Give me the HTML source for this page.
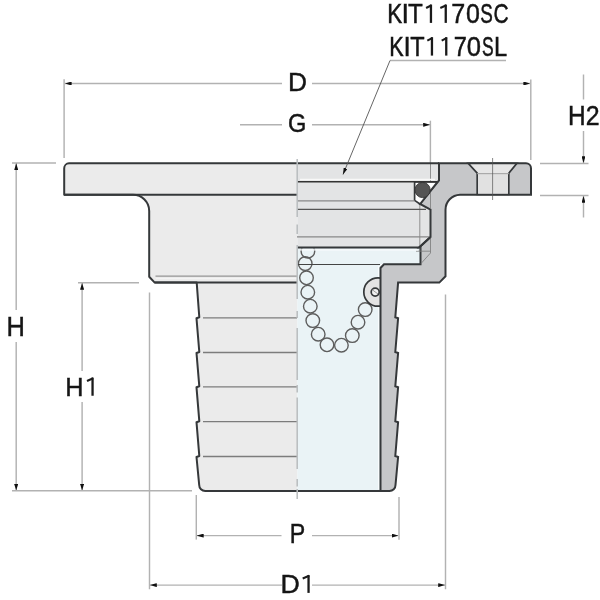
<!DOCTYPE html>
<html><head><meta charset="utf-8">
<style>
html,body{margin:0;padding:0;background:#fff;width:600px;height:600px;overflow:hidden}
svg{display:block;will-change:transform}
text{font-family:"Liberation Sans",sans-serif;fill:#151515;stroke:#151515;stroke-width:0.45;vector-effect:non-scaling-stroke}
</style></head><body>
<svg width="600" height="600" viewBox="0 0 600 600">
<defs>
<marker id="ar" viewBox="0 0 6.8 3.9" refX="6.8" refY="1.95" markerWidth="6.8" markerHeight="3.9" markerUnits="userSpaceOnUse" orient="auto-start-reverse">
<path d="M0,0.35 Q0,0 0.45,0.05 L6.8,1.95 L0.45,3.85 Q0,3.9 0,3.55 Z" fill="#111"/>
</marker>
<clipPath id="boreClip"><rect x="297.3" y="248.6" width="83" height="242"/></clipPath>
</defs>

<!-- ===== Dimension lines ===== -->
<g stroke="#b2b2b2" stroke-width="1.45" fill="none">
  <!-- D -->
  <line x1="64.1" y1="79.2" x2="64.1" y2="158"/>
  <line x1="530.8" y1="79.5" x2="530.8" y2="160"/>
  <line x1="282" y1="83.5" x2="64.8" y2="83.5" marker-end="url(#ar)"/>
  <line x1="312" y1="83.5" x2="530.2" y2="83.5" marker-end="url(#ar)"/>
  <!-- G -->
  <line x1="240" y1="124.8" x2="282" y2="124.8"/>
  <line x1="312" y1="124.8" x2="430" y2="124.8" marker-end="url(#ar)"/>
  <line x1="430.4" y1="120.7" x2="430.4" y2="163"/>
  <!-- H2 -->
  <line x1="583.5" y1="74.5" x2="583.5" y2="99.5"/>
  <line x1="583.5" y1="131" x2="583.5" y2="163" marker-end="url(#ar)"/>
  <line x1="583.5" y1="217.5" x2="583.5" y2="196" marker-end="url(#ar)"/>
  <line x1="540" y1="163.5" x2="588.5" y2="163.5"/>
  <line x1="540" y1="195.5" x2="588.5" y2="195.5"/>
  <!-- H -->
  <line x1="12" y1="163" x2="56" y2="163"/>
  <line x1="16.2" y1="310" x2="16.2" y2="163.3" marker-end="url(#ar)"/>
  <line x1="16.2" y1="342" x2="16.2" y2="490.5" marker-end="url(#ar)"/>
  <!-- H1 -->
  <line x1="78" y1="282.8" x2="139" y2="282.8"/>
  <line x1="82.1" y1="371" x2="82.1" y2="283" marker-end="url(#ar)"/>
  <line x1="82.1" y1="402" x2="82.1" y2="490.5" marker-end="url(#ar)"/>
  <line x1="12" y1="490.8" x2="192" y2="490.8"/>
  <!-- D1 -->
  <line x1="149.5" y1="292.5" x2="149.5" y2="589.3"/>
  <line x1="445.5" y1="294.5" x2="445.5" y2="589.3"/>
  <line x1="282" y1="585.1" x2="150" y2="585.1" marker-end="url(#ar)"/>
  <line x1="312" y1="585.1" x2="445" y2="585.1" marker-end="url(#ar)"/>
  <!-- P -->
  <line x1="196.3" y1="495" x2="196.3" y2="539.6"/>
  <line x1="399" y1="497" x2="399" y2="539.7"/>
  <line x1="281.5" y1="535.6" x2="196.9" y2="535.6" marker-end="url(#ar)"/>
  <line x1="312" y1="535.6" x2="398.4" y2="535.6" marker-end="url(#ar)"/>
  <!-- leader underline -->
  <line x1="390" y1="60.5" x2="506" y2="60.5"/>
</g>

<!-- ===== Left half (view) ===== -->
<path fill="#ebebeb" stroke="#35383a" stroke-width="2" stroke-linejoin="round" d="M297.3,163.3 H69 A5,5 0 0 0 64.2,168.3 V194.8 H133 A16.2,16.2 0 0 1 149.2,211 V276.7 L154.7,282.6 H196.7 L199.3,317.3 L196.5,318.3 L199.3,352.0 L196.5,353.0 L199.3,386.3 L196.5,387.3 L199.3,421.2 L196.5,422.2 L199.3,456.0 L196.5,457.0 L199.2,485 A6,6 0 0 0 205.2,491 H297.3"/>
<g stroke="#7c7c7c" stroke-width="1.3">
  <line x1="203" y1="317.8" x2="297" y2="317.8"/>
  <line x1="203" y1="352.5" x2="297" y2="352.5"/>
  <line x1="203" y1="386.8" x2="297" y2="386.8"/>
  <line x1="203" y1="421.7" x2="297" y2="421.7"/>
  <line x1="203" y1="456.5" x2="297" y2="456.5"/>
</g>
<line x1="155.5" y1="276.2" x2="297" y2="276.2" stroke="#959595" stroke-width="1.2"/>
<line x1="156" y1="278.6" x2="297" y2="278.6" stroke="#f6f6f6" stroke-width="1"/>
<line x1="64" y1="194.8" x2="297" y2="194.8" stroke="#35383a" stroke-width="2"/>
<line x1="154.7" y1="282.6" x2="297" y2="282.6" stroke="#35383a" stroke-width="2"/>

<!-- ===== Right half (section) ===== -->
<!-- thread region -->
<rect x="297.3" y="163.3" width="142" height="84.5" fill="#e3e4e5"/>
<!-- bore -->
<path fill="#eaf3f6" d="M297.3,247.5 H420.5 V264 H380.5 V491 H297.3 Z"/>
<line x1="378.6" y1="266" x2="378.6" y2="489.5" stroke="#fbfdfe" stroke-width="1"/>
<!-- chain -->
<g fill="none" stroke="#5e5e5e" stroke-width="1.4" clip-path="url(#boreClip)">
  <circle cx="307.9" cy="251.3" r="6.8"/>
  <circle cx="305.2" cy="263.6" r="6.8"/>
  <circle cx="306.5" cy="277.8" r="6.8"/>
  <circle cx="307.8" cy="292.2" r="6.8"/>
  <circle cx="310.3" cy="306.2" r="6.8"/>
  <circle cx="312.8" cy="320.6" r="6.8"/>
  <circle cx="318.2" cy="334.2" r="6.8"/>
  <circle cx="327.0" cy="344.8" r="6.8"/>
  <circle cx="341.4" cy="345.2" r="6.8"/>
  <circle cx="352.3" cy="335.6" r="6.8"/>
  <circle cx="358.0" cy="322.2" r="6.8"/>
  <circle cx="365.2" cy="309.6" r="6.8"/>
</g>
<line x1="297" y1="264.5" x2="380" y2="264.5" stroke="#444" stroke-width="1.1"/>
<circle cx="378" cy="292" r="14.2" fill="#e3e3e3" stroke="#35383a" stroke-width="1.7"/>
<circle cx="375.2" cy="292.1" r="4" fill="#f2f2f2" stroke="#35383a" stroke-width="1.7"/>
<line x1="372.6" y1="290" x2="378" y2="294" stroke="#999" stroke-width="1"/>
<!-- section body -->
<path fill="#c6c7c9" stroke="#35383a" stroke-width="2" stroke-linejoin="miter" d="M439,163.3 H526 A5,5 0 0 1 531,168.3 V194.7 H460 A15,15 0 0 0 445.5,209.7 V276.3 L439.3,282.6 H398.1 L395.3,317.3 L398.1,318.3 L395.3,352.0 L398.1,353.0 L395.3,386.3 L398.1,387.3 L395.3,421.2 L398.1,422.2 L395.3,456.0 L398.1,457.0 L395.5,485 A6,6 0 0 1 389.5,491 H380.5 V268 L384,264.2 H420.5 V247.5 H419.1 L430.5,237 V209.5 L420,204 L439,180.5 Z"/>
<!-- faint edges inside section near thread end -->
<g stroke="#7a7a7a" stroke-width="0.8" fill="none">
  <line x1="416" y1="251.2" x2="430.5" y2="251.2"/>
  <line x1="430.5" y1="237" x2="430.5" y2="253"/>
  <line x1="421" y1="263.5" x2="430.5" y2="253"/>
  <line x1="419.8" y1="205" x2="419.8" y2="251"/>
  <line x1="430.5" y1="163" x2="430.5" y2="209"/>
</g>
<!-- groove -->
<path fill="#fff" stroke="#35383a" stroke-width="1.7" stroke-linejoin="miter" d="M414.6,181.8 H437.5 L420,204 L414.6,200.4 Z"/>
<circle cx="422.6" cy="190" r="7.6" fill="#545454" stroke="#333" stroke-width="0.9"/>
<!-- countersunk hole -->
<path fill="#e6e6e6" stroke="#35383a" stroke-width="1.7" stroke-linejoin="miter" d="M468.2,163.3 H516.9 L508.8,173.2 V194.3 H477.2 V173.2 Z"/>
<rect x="478" y="174" width="30" height="19.6" fill="#e1e1e1"/>
<line x1="477.2" y1="173.6" x2="508.8" y2="173.6" stroke="#aaa" stroke-width="1.2"/>
<line x1="492.6" y1="158" x2="492.6" y2="200" stroke="#555" stroke-width="0.7"/>
<!-- thread lines -->
<g stroke-width="1.3">
  <line x1="300" y1="179.5" x2="435" y2="179.5" stroke="#f8f8f8"/>
  <line x1="297" y1="181.8" x2="437" y2="181.8" stroke="#333" stroke-width="1.6"/>
  <line x1="297" y1="200.8" x2="414.6" y2="200.8" stroke="#888"/>
  <line x1="297" y1="209.4" x2="426" y2="209.4" stroke="#555"/>
  <line x1="297" y1="236.8" x2="430" y2="236.8" stroke="#888"/>
  <line x1="300" y1="249.8" x2="418" y2="249.8" stroke="#fafcfd" stroke-width="1.2"/>
</g>
<path d="M297,247.5 H419.1 L430.5,237" fill="none" stroke="#35383a" stroke-width="2"/>
<line x1="297.3" y1="163.3" x2="439" y2="163.3" stroke="#35383a" stroke-width="2"/>
<line x1="297.3" y1="491" x2="381" y2="491" stroke="#35383a" stroke-width="2"/>

<!-- center line -->
<path d="M297.2,159 V217 M297.2,224.5 V234 M297.2,245 V299 M297.2,311 V318 M297.2,328 V380 M297.2,385 V392.5 M297.2,397.5 V469 M297.2,479 V486.5 M297.2,489 V499" stroke="#b9bdbf" stroke-width="1.5" fill="none"/>

<!-- leader -->
<line x1="390" y1="60.5" x2="343" y2="174.5" stroke="#555" stroke-width="0.9" marker-end="url(#ar)"/>
<!-- ===== Text ===== -->
<g class="txt">
<text transform="translate(387.18,22.90) scale(0.838,1)" font-size="26.87">K</text>
<text transform="translate(401.50,22.90) scale(1.008,1)" font-size="26.87">I</text>
<text transform="translate(408.04,22.90) scale(0.902,1)" font-size="26.87">T</text>
<path d="M430.95,4.60 V22.90" stroke="#1a1a1a" stroke-width="2.3" fill="none"/>
<path d="M431.55,5.30 L426.10,8.00" stroke="#1a1a1a" stroke-width="2.1" fill="none" stroke-linecap="butt"/>
<path d="M445.75,4.60 V22.90" stroke="#1a1a1a" stroke-width="2.3" fill="none"/>
<path d="M446.35,5.30 L440.30,8.00" stroke="#1a1a1a" stroke-width="2.1" fill="none" stroke-linecap="butt"/>
<text transform="translate(451.24,22.90) scale(0.935,1)" font-size="26.87">7</text>
<text transform="translate(466.04,22.90) scale(0.929,1)" font-size="26.87">0</text>
<text transform="translate(480.13,22.90) scale(0.701,1)" font-size="26.87">S</text>
<text transform="translate(493.55,22.90) scale(0.780,1)" font-size="26.87">C</text>
<text transform="translate(389.15,55.60) scale(0.801,1)" font-size="27.02">K</text>
<text transform="translate(403.40,55.60) scale(0.962,1)" font-size="27.02">I</text>
<text transform="translate(410.36,55.60) scale(0.871,1)" font-size="27.02">T</text>
<path d="M431.95,37.20 V55.60" stroke="#1a1a1a" stroke-width="2.3" fill="none"/>
<path d="M432.55,37.90 L427.30,40.60" stroke="#1a1a1a" stroke-width="2.1" fill="none" stroke-linecap="butt"/>
<path d="M446.25,37.20 V55.60" stroke="#1a1a1a" stroke-width="2.3" fill="none"/>
<path d="M446.85,37.90 L441.70,40.60" stroke="#1a1a1a" stroke-width="2.1" fill="none" stroke-linecap="butt"/>
<text transform="translate(453.72,55.60) scale(0.873,1)" font-size="27.02">7</text>
<text transform="translate(466.82,55.60) scale(0.947,1)" font-size="27.02">0</text>
<text transform="translate(481.89,55.60) scale(0.646,1)" font-size="27.02">S</text>
<text transform="translate(494.08,55.60) scale(0.879,1)" font-size="27.02">L</text>
<text transform="translate(287.97,90.90) scale(1.007,1)" font-size="26.15">D</text>
<text transform="translate(287.92,131.70) scale(0.927,1)" font-size="25.42">G</text>
<text transform="translate(568.03,124.50) scale(0.898,1)" font-size="27.16">H</text>
<text transform="translate(585.65,124.50) scale(0.917,1)" font-size="27.16">2</text>
<text transform="translate(6.44,335.90) scale(0.948,1)" font-size="26.87">H</text>
<text transform="translate(65.36,395.75) scale(0.949,1)" font-size="26.65">H</text>
<path d="M92.55,377.60 V395.75" stroke="#1a1a1a" stroke-width="2.3" fill="none"/>
<path d="M93.15,378.30 L87.00,381.00" stroke="#1a1a1a" stroke-width="2.1" fill="none" stroke-linecap="butt"/>
<text transform="translate(289.83,543.30) scale(0.868,1)" font-size="26.73">P</text>
<text transform="translate(280.59,592.90) scale(1.024,1)" font-size="26.15">D</text>
<path d="M308.55,575.10 V592.90" stroke="#1a1a1a" stroke-width="2.3" fill="none"/>
<path d="M309.15,575.80 L302.70,578.50" stroke="#1a1a1a" stroke-width="2.1" fill="none" stroke-linecap="butt"/>
</g>
</svg>
</body></html>
